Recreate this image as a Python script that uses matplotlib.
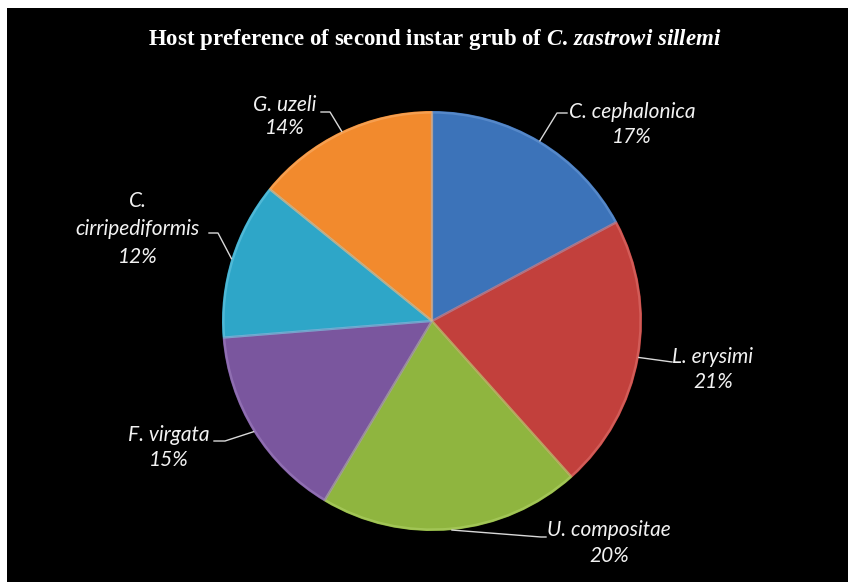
import matplotlib
matplotlib.use("Agg")
import matplotlib.pyplot as plt
import matplotlib.patches as mpatches
import numpy as np

# ---- data ----
hosts = ["C. cephalonica", "L. erysimi", "U. compositae", "F. virgata",
         "C.\ncirripediformis", "G. uzeli"]
shares = [17, 21, 20, 15, 12, 14]
pct_labels = ["17%", "21%", "20%", "15%", "12%", "14%"]
colors = ["#3c73b9", "#c2403c", "#8fb53f", "#7a569e", "#2ea6c8", "#f28a2d"]
edge_colors = ["#6c9ad6", "#e07470", "#b2d46a", "#a183c2", "#6cc8e2", "#f9b26f"]

W, H = 848, 582
fig = plt.figure(figsize=(W / 100, H / 100), dpi=100)
fig.patch.set_facecolor("white")
ax = fig.add_axes([0, 0, 1, 1])

cx, cy, R = 432, H - 321, 210
wedges, _ = ax.pie(shares, colors=colors, startangle=90, counterclock=False,
                   radius=R, center=(cx, cy), frame=True,
                   wedgeprops=dict(linewidth=0))
ax.set_xlim(0, W)
ax.set_ylim(0, H)
ax.set_aspect("equal")
ax.axis("off")

# black panel (white strips on top and left)
ax.add_patch(mpatches.Rectangle((7, 0), W - 7, H - 8, facecolor="black",
                                edgecolor="none", zorder=0))

for w, ec in zip(wedges, edge_colors):
    w.set_zorder(2)
    rim = mpatches.Wedge((cx, cy), R - 1.5, w.theta1, w.theta2,
                         facecolor="none", edgecolor=ec, linewidth=1.6,
                         alpha=0.55, zorder=3)
    ax.add_patch(rim)

# label layout (pixel coords, y measured from top): elbow points, text centre of first line
layout = [
    dict(elbow=[(557, 113), (567, 113)], text=(632, 112), gap=25),
    dict(elbow=[(672, 362)], text=(713, 357), gap=25),
    dict(elbow=[(541, 537), (546, 537)], text=(609, 530), gap=26),
    dict(elbow=[(225, 441), (214, 441)], text=(169, 435), gap=25),
    dict(elbow=[(218, 233), (209, 233)], text=(138, 201), gap=28),
    dict(elbow=[(330, 112), (321, 112)], text=(285, 105), gap=23),
]

font = dict(family=["Lato", "DejaVu Sans"], style="italic", size=15,
            color="#f2f2f2")
for w, lay, name, pct in zip(wedges, layout, hosts, pct_labels):
    mid = np.deg2rad((w.theta1 + w.theta2) / 2)
    sx, sy = cx + R * np.cos(mid), cy + R * np.sin(mid)
    xs = [sx] + [p[0] for p in lay["elbow"]]
    ys = [sy] + [H - p[1] for p in lay["elbow"]]
    ax.plot(xs, ys, color="#d9d9d9", lw=1.0, zorder=4)
    tx, ty = lay["text"]
    lines = (name + "\n" + pct).split("\n")
    for i, s in enumerate(lines):
        ax.text(tx, H - (ty + i * lay["gap"]), s, ha="center", va="center",
                zorder=5, **font)

# title with italic species name
plt.rcParams["mathtext.fontset"] = "custom"
plt.rcParams["mathtext.rm"] = "Liberation Serif:bold"
plt.rcParams["mathtext.it"] = "Liberation Serif:italic:bold"
ax.text(435, H - 40,
        r"Host preference of second instar grub of $\mathit{C.\,zastrowi\ sillemi}$",
        ha="center", va="center", color="white", fontsize=16.5,
        family="Liberation Serif", weight="bold", zorder=5)

fig.savefig("out.png", dpi=100, facecolor=fig.get_facecolor())
